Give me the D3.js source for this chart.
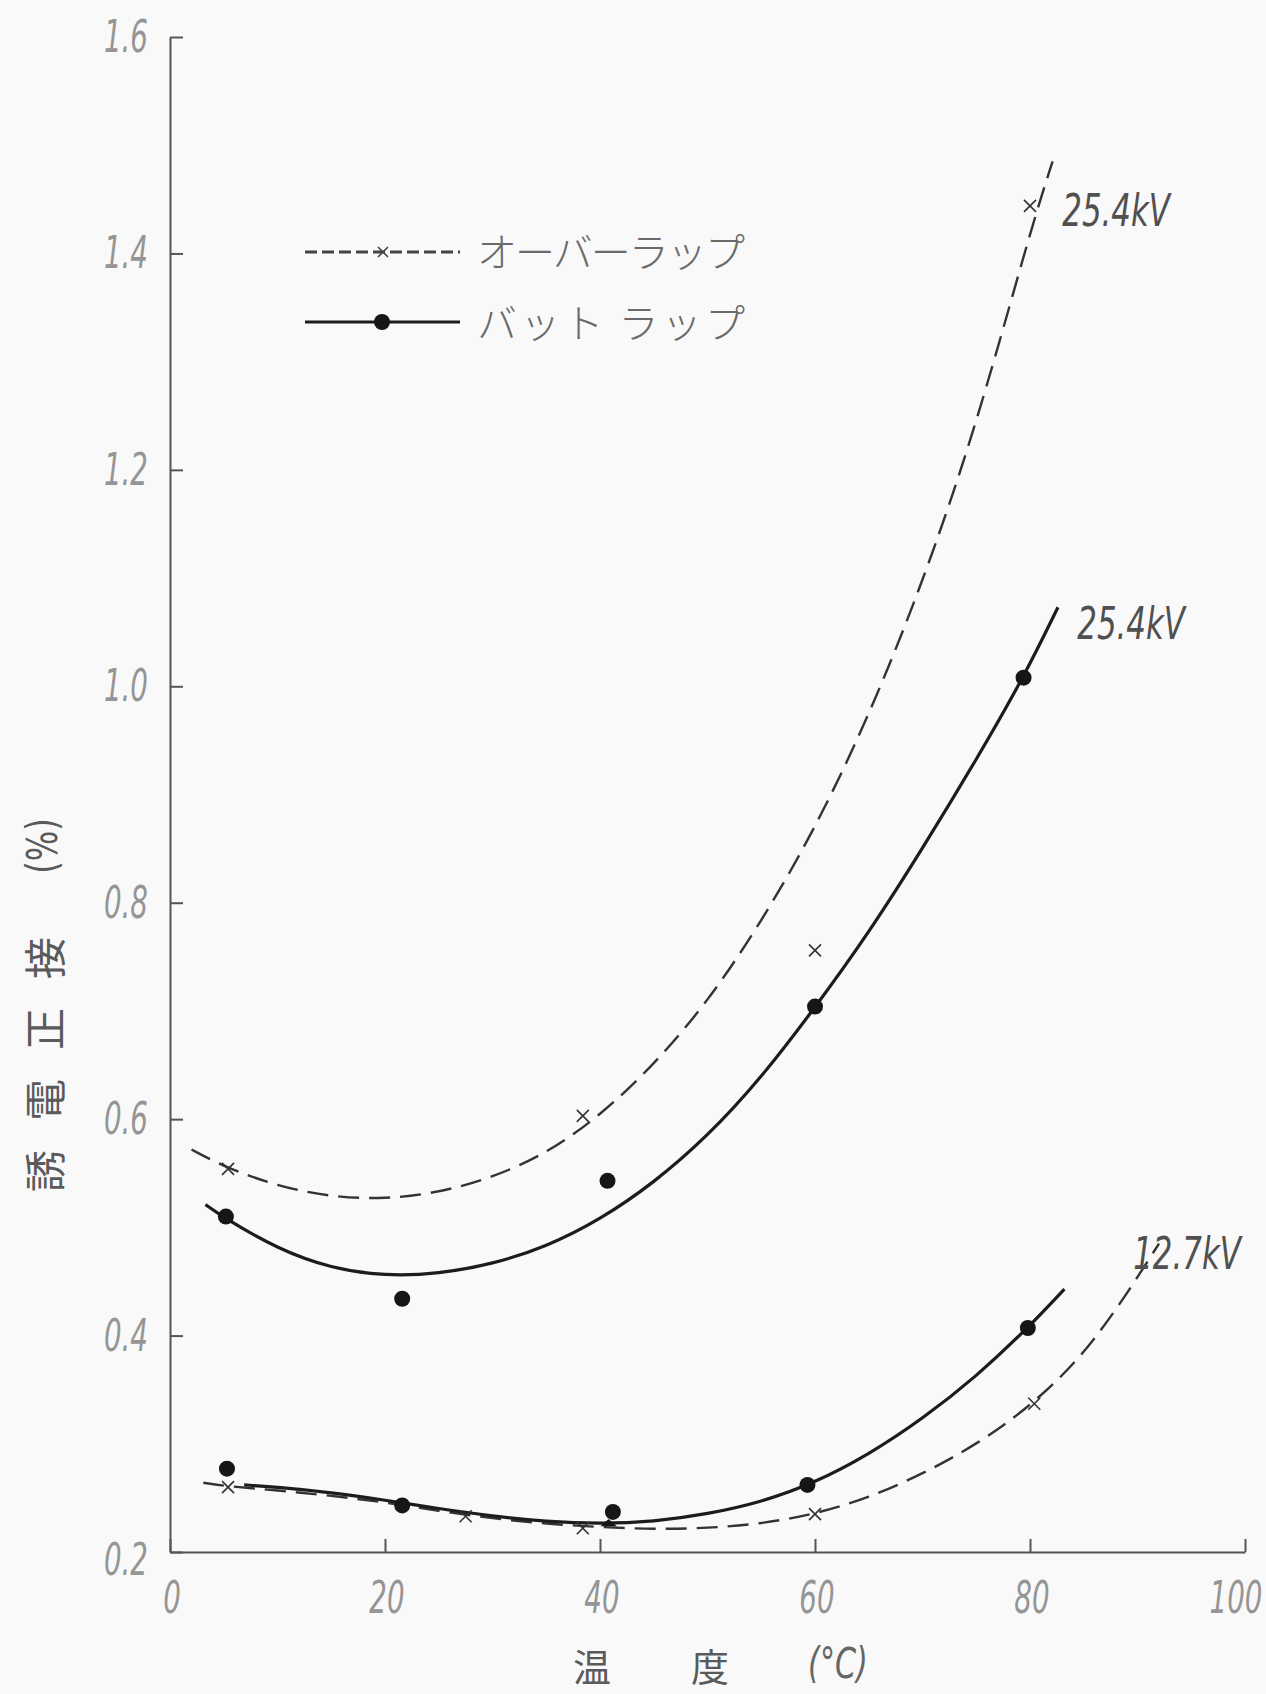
<!DOCTYPE html>
<html>
<head>
  <meta charset="utf-8">
  <title>誘電正接 - 温度</title>
  <script src="https://d3js.org/d3.v7.min.js"></script>
  <style>
    body { margin: 0; background: #f9f9f9; }
    svg { display: block; }
  </style>
</head>
<body>
  <div id="chart"></div>
  <script>
  // chart values
  const xTicks = [0, 20, 40, 60, 80, 100];
  const yTicks = [0.2, 0.4, 0.6, 0.8, 1.0, 1.2, 1.4, 1.6];
  const xTickLabels = ["0", "20", "40", "60", "80", "100"];
  const yTickLabels = ["0.2", "0.4", "0.6", "0.8", "1.0", "1.2", "1.4", "1.6"];

  // measured points
  const overlap254 = [[5.4, 0.554], [38.4, 0.603], [60.0, 0.756], [80.0, 1.444]];
  const butt254 = [[5.2, 0.510], [21.6, 0.434], [40.7, 0.543], [60.0, 0.704], [79.4, 1.008]];
  const overlap127 = [[5.4, 0.260], [27.5, 0.233], [38.4, 0.222], [60.0, 0.235], [80.4, 0.337]];
  const butt127 = [[5.3, 0.277], [21.6, 0.243], [41.2, 0.237], [59.3, 0.262], [79.8, 0.407]];
  const junction = [[40.8, 0.226]];

  // hand drawn fitting curves
  const overlap254Curve = [[2.0, 0.572], [5, 0.556], [10, 0.538], [15, 0.528], [20, 0.526], [25, 0.532],
    [30, 0.546], [35, 0.568], [40, 0.603], [45, 0.650], [50, 0.708], [55, 0.782], [60, 0.868], [65, 0.972],
    [70, 1.095], [75, 1.240], [80, 1.420], [82.1, 1.485]];
  const butt254Curve = [[3.3, 0.521], [5, 0.509], [10, 0.480], [15, 0.462], [20, 0.455], [25, 0.457],
    [30, 0.466], [35, 0.482], [40, 0.507], [45, 0.541], [50, 0.584], [55, 0.638], [60, 0.703], [65, 0.772],
    [70, 0.850], [75, 0.932], [79.4, 1.008], [82.6, 1.073]];
  const overlap127Curve = [[3.1, 0.264], [5, 0.261], [10, 0.257], [15, 0.252], [20, 0.246], [25, 0.238],
    [30, 0.231], [35, 0.226], [40, 0.223], [45, 0.221], [50, 0.222], [55, 0.226], [60, 0.235], [65, 0.250],
    [70, 0.272], [75, 0.299], [80.4, 0.337], [86, 0.392], [92, 0.485]];
  const butt127Curve = [[6.9, 0.262], [10, 0.260], [15, 0.255], [20, 0.248], [25, 0.240], [30, 0.233],
    [35, 0.228], [40, 0.226], [45, 0.228], [50, 0.235], [55, 0.246], [60, 0.264], [65, 0.290], [70, 0.323],
    [75, 0.362], [79.8, 0.407], [83.2, 0.443]];

  const seriesLabels = [
    {text: "25.4kV", at: [83.0, 1.44]},
    {text: "25.4kV", at: [84.4, 1.058]},
    {text: "12.7kV", at: [89.6, 0.476]}
  ];
  const legendNames = ["オーバーラップ", "バット ラップ"];

  const width = 1266, height = 1694;
  const tickFont = "'Liberation Sans Narrow', 'DejaVu Sans Condensed', sans-serif";
  const cjkFont = "'Noto Sans CJK JP', sans-serif";

  const x = d3.scaleLinear().domain([0, 100]).range([170, 1245]);
  const y = d3.scaleLinear().domain([0.2, 1.6]).range([1552, 37]);

  const svg = d3.select("#chart").append("svg")
    .attr("width", width)
    .attr("height", height)
    .style("background", "#f9f9f9");

  // narrow italic numbers like the hand lettering
  function numText(g, px, py, txt, anchor, size, fill, sx) {
    return g.append("text")
      .attr("transform", "translate(" + px + "," + py + ") scale(" + (sx || 0.7) + ",1)")
      .attr("text-anchor", anchor)
      .attr("dominant-baseline", "central")
      .style("font-family", tickFont)
      .style("font-style", "italic")
      .style("font-size", size + "px")
      .style("fill", fill)
      .text(txt);
  }

  // axes
  svg.append("g")
    .attr("transform", "translate(" + x(0) + ",0)")
    .call(d3.axisLeft(y).tickValues(yTicks).tickSizeInner(-13).tickSizeOuter(0).tickFormat(""));
  svg.append("g")
    .attr("transform", "translate(0," + y(0.2) + ")")
    .call(d3.axisBottom(x).tickValues(xTicks).tickSizeInner(-13).tickSizeOuter(0).tickFormat(""));
  svg.selectAll(".domain, .tick line")
    .attr("stroke", "#555")
    .attr("stroke-width", 2);

  const labels = svg.append("g");
  yTicks.forEach(function(v, i) {
    numText(labels, 148, y(v) + (i == 0 ? 8 : 0), yTickLabels[i], "end", 44, "#959595");
  });
  xTicks.forEach(function(v, i) {
    numText(labels, x(v) + (i == 5 ? -9 : 2), 1598, xTickLabels[i], "middle", 44, "#959595");
  });

  // axis titles
  const yTitle = ["誘", "電", "正", "接"];
  yTitle.forEach(function(c, i) {
    svg.append("text")
      .attr("transform", "translate(42," + (1171 - i * 71) + ") rotate(-90)")
      .attr("text-anchor", "middle")
      .attr("dominant-baseline", "central")
      .style("font-family", cjkFont)
      .style("font-size", "42px")
      .style("fill", "#5a5a5a")
      .text(c);
  });
  svg.append("text")
    .attr("transform", "translate(42,846) rotate(-90) scale(0.85,1)")
    .attr("text-anchor", "middle")
    .attr("dominant-baseline", "central")
    .style("font-family", tickFont)
    .style("font-size", "42px")
    .style("fill", "#5a5a5a")
    .text("(%)");

  const xTitle = [{t: "温", at: 592}, {t: "度", at: 710}];
  xTitle.forEach(function(d) {
    svg.append("text")
      .attr("x", d.at).attr("y", 1664)
      .attr("text-anchor", "middle")
      .attr("dominant-baseline", "central")
      .style("font-family", cjkFont)
      .style("font-size", "38px")
      .style("fill", "#5a5a5a")
      .text(d.t);
  });
  numText(svg, 838, 1664, "(°C)", "middle", 42, "#666", 0.8);

  // curves
  const line = d3.line()
    .x(function(d) { return x(d[0]); })
    .y(function(d) { return y(d[1]); })
    .curve(d3.curveBasis);

  function dashed(data) {
    svg.append("path")
      .datum(data)
      .attr("d", line)
      .attr("fill", "none")
      .attr("stroke", "#333")
      .attr("stroke-width", 2.4)
      .attr("stroke-dasharray", "21,10");
  }
  function solid(data) {
    svg.append("path")
      .datum(data)
      .attr("d", line)
      .attr("fill", "none")
      .attr("stroke", "#1c1c1c")
      .attr("stroke-width", 3.2);
  }
  dashed(overlap254Curve);
  dashed(overlap127Curve);
  solid(butt254Curve);
  solid(butt127Curve);

  function crosses(data) {
    svg.append("g").selectAll("path")
      .data(data)
      .enter()
      .append("path")
      .attr("d", function(d) {
        const cx = x(d[0]), cy = y(d[1]), s = 6;
        return "M" + (cx - s) + "," + (cy - s) + "L" + (cx + s) + "," + (cy + s) +
          "M" + (cx - s) + "," + (cy + s) + "L" + (cx + s) + "," + (cy - s);
      })
      .attr("stroke", "#333")
      .attr("stroke-width", 1.6);
  }
  function dots(data) {
    svg.append("g").selectAll("circle")
      .data(data)
      .enter()
      .append("circle")
      .attr("cx", function(d) { return x(d[0]); })
      .attr("cy", function(d) { return y(d[1]); })
      .attr("r", 8)
      .attr("fill", "#161616");
  }
  crosses(overlap254);
  crosses(overlap127);
  dots(butt254);
  dots(butt127);

  svg.append("g").selectAll("path")
    .data(junction)
    .enter()
    .append("path")
    .attr("transform", function(d) { return "translate(" + x(d[0]) + "," + y(d[1]) + ") scale(1.4,0.7)"; })
    .attr("d", d3.symbol().type(d3.symbolTriangle).size(60))
    .attr("fill", "#161616");

  seriesLabels.forEach(function(d) {
    numText(svg, x(d.at[0]), y(d.at[1]), d.text, "start", 44, "#505050", 0.78);
  });

  // legend
  const leg = svg.append("g");
  leg.append("line")
    .attr("x1", 305).attr("x2", 460).attr("y1", 252).attr("y2", 252)
    .attr("stroke", "#444").attr("stroke-width", 2.8).attr("stroke-dasharray", "12,5");
  leg.append("path")
    .attr("d", "M378,247L388,257M378,257L388,247")
    .attr("stroke", "#444").attr("stroke-width", 1.6);
  leg.append("line")
    .attr("x1", 305).attr("x2", 460).attr("y1", 322).attr("y2", 322)
    .attr("stroke", "#1c1c1c").attr("stroke-width", 3);
  leg.append("circle")
    .attr("cx", 382).attr("cy", 322).attr("r", 8).attr("fill", "#161616");
  legendNames.forEach(function(n, i) {
    leg.append("text")
      .attr("x", 477).attr("y", 250 + i * 71)
      .attr("dominant-baseline", "central")
      .attr("textLength", 268)
      .attr("lengthAdjust", "spacing")
      .style("font-family", cjkFont)
      .style("font-size", "40px")
      .style("font-weight", 300)
      .style("fill", "#6a6a6a")
      .text(n);
  });
  </script>
</body>
</html>
